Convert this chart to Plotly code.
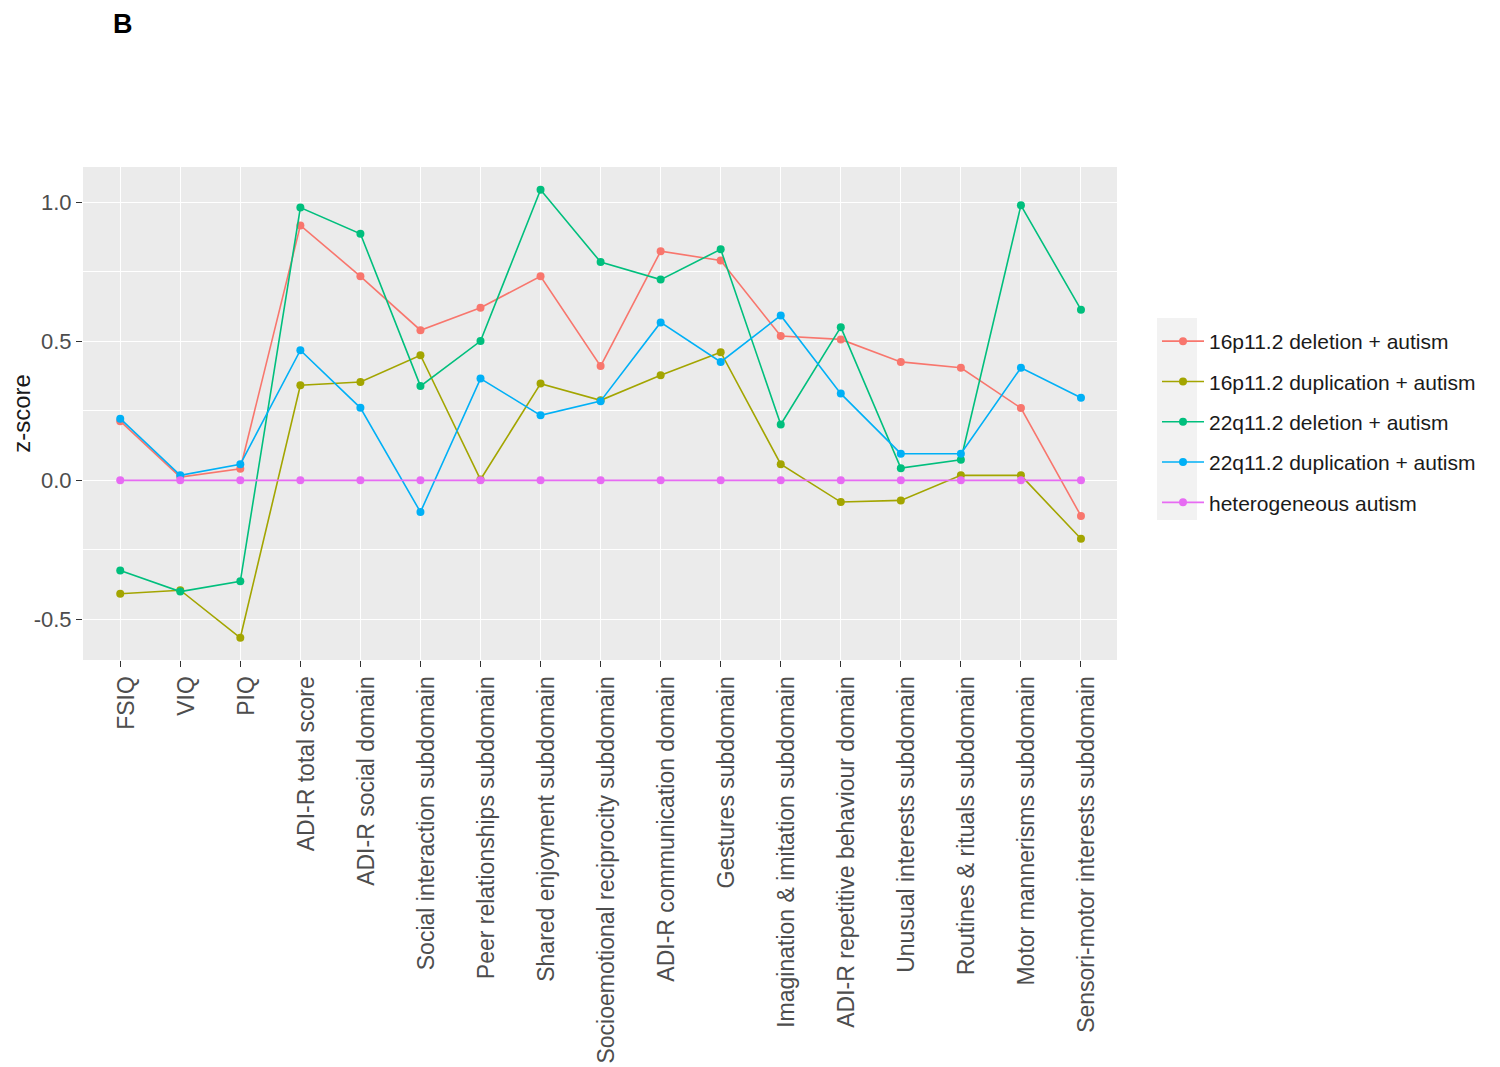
import plotly.graph_objects as go

categories = [
    "FSIQ", "VIQ", "PIQ", "ADI-R total score", "ADI-R social domain",
    "Social interaction subdomain", "Peer relationships subdomain",
    "Shared enjoyment subdomain", "Socioemotional reciprocity subdomain",
    "ADI-R communication domain", "Gestures subdomain",
    "Imagination & imitation subdomain", "ADI-R repetitive behaviour domain",
    "Unusual interests subdomain", "Routines & rituals subdomain",
    "Motor mannerisms subdomain", "Sensori-motor interests subdomain",
]

del16 = [0.213, 0.012, 0.042, 0.917, 0.734, 0.540, 0.621, 0.734, 0.411,
         0.824, 0.791, 0.519, 0.507, 0.426, 0.405, 0.260, -0.128]
dup16 = [-0.408, -0.395, -0.566, 0.342, 0.354, 0.450, 0.003, 0.348, 0.288,
         0.378, 0.461, 0.058, -0.078, -0.072, 0.018, 0.018, -0.210]
del22 = [-0.324, -0.400, -0.363, 0.981, 0.887, 0.339, 0.501, 1.045, 0.785,
         0.722, 0.831, 0.201, 0.551, 0.044, 0.074, 0.989, 0.614]
dup22 = [0.222, 0.018, 0.058, 0.468, 0.261, -0.114, 0.366, 0.234, 0.285,
         0.568, 0.426, 0.593, 0.312, 0.096, 0.096, 0.405, 0.297]
hetero = [0.0] * 17

series_names = ["16p11.2 deletion + autism", "16p11.2 duplication + autism",
                "22q11.2 deletion + autism", "22q11.2 duplication + autism",
                "heterogeneous autism"]
series_values = [del16, dup16, del22, dup22, hetero]
colors = ["#F8766D", "#A3A500", "#00BF7D", "#00B0F6", "#E76BF3"]

fig = go.Figure()
for name, vals, col in zip(series_names, series_values, colors):
    fig.add_trace(go.Scatter(
        x=categories, y=vals, mode="lines+markers", name=name,
        legendgroup=name,
        line=dict(color=col, width=1.6),
        marker=dict(color=col, size=8),
    ))

# page has an 8px body margin; compensate so the plot lands at the reference spot
OFF = 8
W, H = 1500, 1067
PL, PR, PT, PB = 83, 1117, 167, 660  # plot area in window pixels
L = PL - OFF
T = PT - OFF
pw = PR - PL
ph = PB - PT
R = W - L - pw
B = H - T - ph


def px_x(x):
    return (x - PL) / pw


def px_y(y):
    return (PB - y) / ph


fig.update_layout(
    width=W, height=H,
    margin=dict(l=L, r=R, t=T, b=B, autoexpand=False),
    paper_bgcolor="white",
    plot_bgcolor="#EBEBEB",
    font=dict(family="Liberation Sans, Arial, sans-serif", color="#4D4D4D"),
    showlegend=True,
    legend=dict(
        x=px_x(1157), xanchor="left",
        y=px_y(422), yanchor="middle",
        font=dict(size=21, color="#1A1A1A"),
        bgcolor="rgba(0,0,0,0)",
        tracegroupgap=10,
        itemwidth=42,
    ),
    xaxis=dict(
        range=[-0.62, 16.6],
        tickangle=-90,
        tickfont=dict(size=23, color="#4D4D4D"),
        ticklabelshift=6,
        showgrid=True, gridcolor="white", gridwidth=1.4,
        ticks="outside", ticklen=6, tickcolor="#333333", tickwidth=1,
        zeroline=False, showline=False,
    ),
    yaxis=dict(
        range=[-0.646, 1.127],
        tickvals=[-0.5, 0.0, 0.5, 1.0],
        ticktext=["-0.5", "0.0", "0.5", "1.0"],
        tickfont=dict(size=22, color="#4D4D4D"),
        showgrid=True, gridcolor="white", gridwidth=1.4,
        minor=dict(tickvals=[-0.25, 0.25, 0.75], showgrid=True,
                   gridcolor="white", gridwidth=0.7),
        ticks="outside", ticklen=6, tickcolor="#333333", tickwidth=1,
        zeroline=False, showline=False,
        title=dict(text="z-score", font=dict(size=24, color="#1A1A1A"),
                   standoff=13),
    ),
    shapes=[dict(
        type="rect", xref="paper", yref="paper", layer="below",
        x0=px_x(1157), x1=px_x(1197),
        y0=px_y(520), y1=px_y(318),
        fillcolor="#F2F2F2", line=dict(width=0),
    )],
    annotations=[dict(
        text="<b>B</b>", xref="paper", yref="paper",
        x=px_x(112), y=px_y(OFF),
        xanchor="left", yanchor="top", showarrow=False,
        borderpad=0,
        font=dict(size=27, color="black",
                  family="Liberation Sans, Arial, sans-serif"),
    )],
)

fig.write_html("out.html")
